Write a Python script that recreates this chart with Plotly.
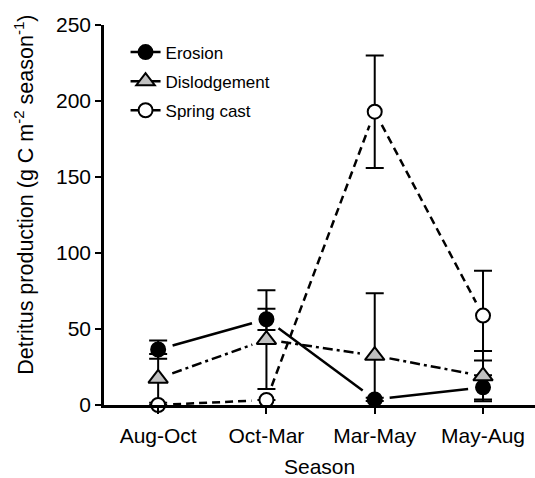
import plotly.graph_objects as go

# Seasonal detritus production by pathway (mean ± error)
seasons = ["Aug-Oct", "Oct-Mar", "Mar-May", "May-Aug"]

erosion = [36.5, 56.4, 3.7, 11.6]
erosion_err = [6, 7, 1, 8]

dislodgement = [17.5, 43, 32.5, 19]
dislodgement_err = [16, 32.5, 41, 16.5]

spring_cast = [0, 3.3, 193, 58.8]
spring_cast_err = [0, 0, 37, 29.6]

FONT = "Liberation Sans, Arial, sans-serif"
MSIZE = 14

# figure geometry (used to convert the line gap from pixels to data units)
W, H = 535, 478
ML, MR, MT, MB = 104, 0, 25, 73
XRANGE = [-0.5, 3.48]
YRANGE = [0, 250]
GAP_PX = 15

px_per_x = (W - ML - MR) / (XRANGE[1] - XRANGE[0])
px_per_y = (H - MT - MB) / (YRANGE[1] - YRANGE[0])

series = [
    ("Erosion", erosion, erosion_err, "circle", "black", "solid"),
    ("Dislodgement", dislodgement, dislodgement_err, "triangle-up", "#c0c0c0", "10px,4px,3px,4px"),
    ("Spring cast", spring_cast, spring_cast_err, "circle", "white", "8px,5px"),
]

xs = list(range(len(seasons)))


def trimmed_segments(values):
    """Connect consecutive points, stopping a few pixels short of each marker."""
    sx, sy = [], []
    for i in range(len(values) - 1):
        x0, y0, x1, y1 = xs[i], values[i], xs[i + 1], values[i + 1]
        dxp = (x1 - x0) * px_per_x
        dyp = (y1 - y0) * px_per_y
        length = (dxp ** 2 + dyp ** 2) ** 0.5
        f = GAP_PX / length
        sx += [x0 + (x1 - x0) * f, x1 - (x1 - x0) * f, None]
        sy += [y0 + (y1 - y0) * f, y1 - (y1 - y0) * f, None]
    return sx, sy


def msize(sym):
    return MSIZE if sym == "circle" else MSIZE + 3


fig = go.Figure()

# connecting lines
for name, vals, err, sym, fill, dash in series:
    sx, sy = trimmed_segments(vals)
    fig.add_trace(go.Scatter(
        x=sx, y=sy, mode="lines", showlegend=False, hoverinfo="skip",
        line=dict(color="black", width=2.5, dash=dash), connectgaps=False,
    ))

# markers with error bars
for name, vals, err, sym, fill, dash in series:
    fig.add_trace(go.Scatter(
        x=xs, y=vals, mode="markers", showlegend=False, name=name,
        marker=dict(symbol=sym, size=msize(sym),
                    color=fill, line=dict(color="black", width=2)),
        error_y=dict(type="data", array=err, visible=True, color="black",
                     thickness=2, width=9),
        cliponaxis=False,
    ))

# legend entries
for i, (name, vals, err, sym, fill, dash) in enumerate(series):
    fig.add_trace(go.Scatter(
        x=[None], y=[None], mode="lines+markers", name=name, legendgroup=f"g{i}",
        marker=dict(symbol=sym, size=msize(sym),
                    color=fill, line=dict(color="black", width=2)),
        line=dict(color="black", width=2.5),
    ))

fig.update_layout(
    width=W, height=H,
    margin=dict(l=ML, r=MR, t=MT, b=MB),
    paper_bgcolor="white", plot_bgcolor="white",
    font=dict(family=FONT, size=21, color="black"),
    legend=dict(x=0.05, y=0.975, xanchor="left", yanchor="top",
                font=dict(size=17, family=FONT), bgcolor="rgba(0,0,0,0)",
                traceorder="grouped", tracegroupgap=4),
    xaxis=dict(
        range=XRANGE, tickmode="array", tickvals=xs, ticktext=seasons,
        showline=True, linewidth=2.5, linecolor="black",
        ticks="outside", ticklen=6, tickwidth=2, tickcolor="black",
        showgrid=False, zeroline=False, ticklabelstandoff=4,
        tickfont=dict(size=21),
    ),
    yaxis=dict(
        range=YRANGE, tickmode="linear", tick0=0, dtick=50,
        showline=True, linewidth=2.5, linecolor="black",
        ticks="outside", ticklen=6, tickwidth=2, tickcolor="black",
        showgrid=False, zeroline=False,
        tickfont=dict(size=21),
    ),
    annotations=[
        dict(text="Season", xref="paper", yref="paper", x=0.5, y=-0.163,
             xanchor="center", yanchor="middle", showarrow=False,
             font=dict(size=21)),
        dict(text="Detritus production (g C m<sup>-2</sup> season<sup>-1</sup>)",
             xref="paper", yref="paper", x=-0.186, y=0.553, textangle=-90,
             xanchor="center", yanchor="middle", showarrow=False,
             font=dict(size=21.5)),
    ],
)

fig.write_html("out.html")
